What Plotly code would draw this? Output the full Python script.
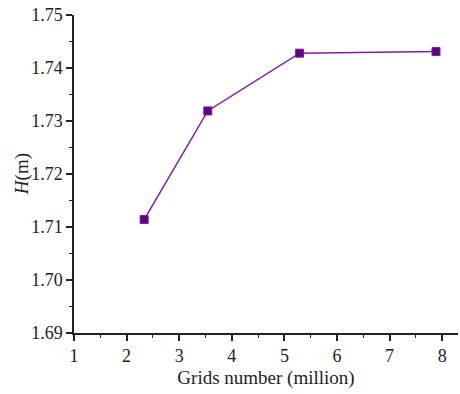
import plotly.graph_objects as go

grids_million = [2.334, 3.543, 5.289, 7.882]
H_m = [1.7114, 1.7319, 1.7428, 1.7431]

fig = go.Figure()
fig.add_trace(go.Scatter(
    x=grids_million, y=H_m, mode="lines+markers",
    line=dict(color="#7B1FA2", width=1.5),
    marker=dict(symbol="square", size=8, color="#5E0080",
                line=dict(color="#7B1FA2", width=1)),
    showlegend=False,
))

fig.update_layout(
    width=460, height=394,
    margin=dict(l=74, r=2, t=15, b=61),
    paper_bgcolor="white", plot_bgcolor="white",
    font=dict(family="Liberation Serif", size=18, color="#222"),
)
fig.update_xaxes(
    range=[1, 8.3], dtick=1, tick0=1, automargin=False,
    showline=True, linecolor="#222", linewidth=1.5,
    ticks="outside", ticklen=6, tickwidth=1.5, tickcolor="#222",
    minor=dict(ticks="outside", ticklen=3, dtick=0.5, tickcolor="#222", tickwidth=1.2),
    showgrid=False, zeroline=False, ticklabeloverflow="allow",
    title=dict(text="Grids number (million)", font=dict(size=19), standoff=5),
)
fig.update_yaxes(
    range=[1.69, 1.75], dtick=0.01, tick0=1.69, tickformat=".2f", automargin=False,
    showline=True, linecolor="#222", linewidth=1.5,
    ticks="outside", ticklen=6, tickwidth=1.5, tickcolor="#222",
    minor=dict(ticks="outside", ticklen=3, dtick=0.005, tickcolor="#222", tickwidth=1.2),
    showgrid=False, zeroline=False, ticklabeloverflow="allow",
)
fig.add_annotation(
    text="<i>H</i>(m)", textangle=-90, xref="paper", yref="paper",
    x=-0.135, y=0.5, xanchor="center", yanchor="middle", showarrow=False,
    font=dict(size=19),
)
fig.write_html(
    "out.html",
    config={"displayModeBar": False},
    post_script="document.body.style.margin='0';document.documentElement.style.overflow='hidden';",
)
